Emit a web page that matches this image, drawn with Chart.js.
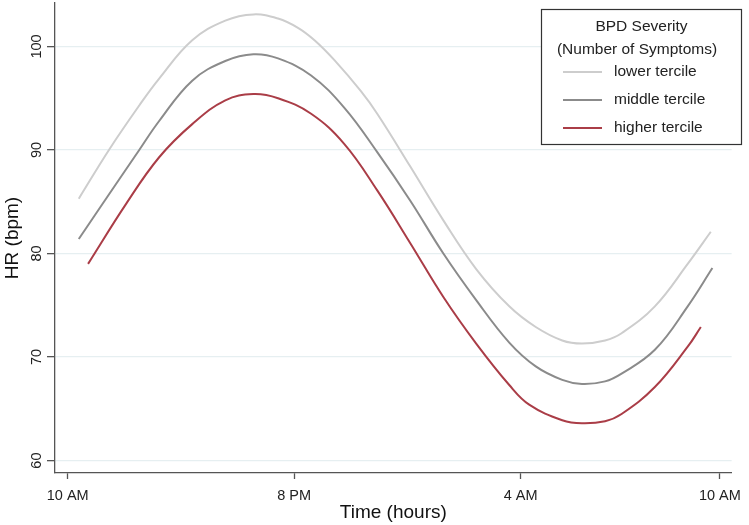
<!DOCTYPE html>
<html>
<head>
<meta charset="utf-8">
<script src="https://cdn.jsdelivr.net/npm/chart.js@4.4.1/dist/chart.umd.min.js"></script>
<style>
  body { margin: 0; background: #ffffff; }
  #chart-container { position: relative; width: 749px; height: 525px; }
</style>
</head>
<body>
<div id="chart-container"><canvas id="myChart"></canvas></div>
<script>
//--------------------- Data

//Series names, shown in the legend
var seriesNames = ["lower tercile", "middle tercile", "higher tercile"]

//Horizontal position of each point, measured in the axis units (10 AM = 0, 8 PM = 10, 4 AM = 20)
var lowerX = [0.49, 1.85, 3.16, 4.04, 5.50, 6.96, 8.20, 9.29, 10.17, 10.90, 11.77, 12.94, 13.67, 15.13, 16.59, 18.04, 19.50, 20.67, 21.84, 22.71, 23.73, 24.46, 25.93, 27.38, 28.40]
var lowerY = [85.3, 90.1, 94.3, 96.9, 100.6, 102.5, 103.1, 102.7, 101.8, 100.6, 98.7, 95.7, 93.5, 88.4, 83.2, 78.5, 74.9, 72.9, 71.6, 71.3, 71.6, 72.3, 74.9, 79.0, 82.1]

var middleX = [0.49, 1.85, 3.16, 4.04, 5.50, 6.96, 8.20, 9.29, 10.75, 12.21, 13.67, 15.13, 16.59, 18.04, 19.50, 20.67, 21.84, 22.71, 23.73, 24.46, 25.93, 27.38, 28.47]
var middleY = [81.4, 85.8, 90.0, 92.8, 96.7, 98.6, 99.25, 98.85, 97.2, 94.1, 89.8, 85.1, 80.0, 75.5, 71.4, 69.1, 67.8, 67.4, 67.65, 68.4, 70.7, 74.9, 78.6]

var higherX = [0.90, 2.58, 4.04, 5.50, 6.96, 8.20, 9.29, 10.75, 12.21, 13.67, 15.13, 16.59, 18.04, 19.50, 20.38, 21.84, 22.71, 23.73, 24.46, 25.93, 27.38, 27.96]
var higherY = [79.0, 84.8, 89.3, 92.5, 94.8, 95.4, 95.0, 93.5, 90.6, 86.1, 81.0, 75.8, 71.3, 67.3, 65.4, 63.9, 63.6, 63.8, 64.5, 67.1, 71.0, 72.9]

//Tick positions and labels
var xTickValues = [0, 10, 20, 28.8]
var xTickLabels = ["10 AM", "8 PM", "4 AM", "10 AM"]
var yTickValues = [60, 70, 80, 90, 100]

//Line colours for the three series
var seriesColors = ["#cdcdcd", "#8b8b8b", "#aa3d47"]

// ------------------- Functions

//Turns two arrays into the {x, y} points Chart.js wants
function makePoints(xs, ys) {
    var points = []
    for (var i = 0; i < xs.length; i++)
    {
        points.push({x: xs[i], y: ys[i]})
    }
    return points
}

//Draws the y tick labels turned on their side, like the original
var sideways = {
    id: "sidewaysTicks",
    afterDraw: function (chart) {
        var ctx = chart.ctx
        var yScale = chart.scales.y
        ctx.save()
        ctx.fillStyle = "#222"
        ctx.font = "14.5px 'Liberation Sans', Arial, sans-serif"
        ctx.textAlign = "center"
        ctx.textBaseline = "middle"
        for (var i = 0; i < yTickValues.length; i++)
        {
            ctx.save()
            ctx.translate(36.5, yScale.getPixelForValue(yTickValues[i]))
            ctx.rotate(-Math.PI / 2)
            ctx.fillText(String(yTickValues[i]), 0, 0)
            ctx.restore()
        }
        ctx.restore()
    }
}

//Draws the boxed legend in the top right corner
var boxLegend = {
    id: "boxLegend",
    afterDraw: function (chart) {
        var ctx = chart.ctx
        ctx.save()
        ctx.fillStyle = "#ffffff"
        ctx.fillRect(541.5, 9.5, 200, 135)
        ctx.strokeStyle = "#333"
        ctx.lineWidth = 1.2
        ctx.strokeRect(541.5, 9.5, 200, 135)

        ctx.fillStyle = "#222"
        ctx.font = "15.5px 'Liberation Sans', Arial, sans-serif"
        ctx.textBaseline = "middle"
        ctx.textAlign = "center"
        ctx.fillText("BPD Severity", 641.5, 27)
        ctx.fillText("(Number of Symptoms)", 637, 50)

        ctx.textAlign = "left"
        for (var i = 0; i < seriesNames.length; i++)
        {
            var rowY = 72 + i * 28
            ctx.strokeStyle = seriesColors[i]
            ctx.lineWidth = 2
            ctx.beginPath()
            ctx.moveTo(563, rowY)
            ctx.lineTo(602, rowY)
            ctx.stroke()
            ctx.fillText(seriesNames[i], 614, rowY)
        }
        ctx.restore()
    }
}

//Builds the chart
function createGraph() {
    var allX = [lowerX, middleX, higherX]
    var allY = [lowerY, middleY, higherY]
    var datasets = []
    for (var i = 0; i < seriesNames.length; i++)
    {
        datasets.push({
            label: seriesNames[i],
            data: makePoints(allX[i], allY[i]),
            borderColor: seriesColors[i],
            borderWidth: 2,
            pointRadius: 0,
            fill: false,
            tension: 0.4
        })
    }

    var ctx = document.getElementById("myChart")
    var myChart = new Chart(ctx, {
        type: "line",
        data: { datasets: datasets },
        options: {
            animation: false,
            responsive: true,
            maintainAspectRatio: false,
            layout: { padding: { top: 3, right: 11, left: 0, bottom: 0 } },
            plugins: {
                legend: { display: false },
                tooltip: { enabled: false }
            },
            scales: {
                x: {
                    type: "linear",
                    min: -0.56,
                    max: 29.32,
                    afterBuildTicks: function (scale) {
                        scale.ticks = xTickValues.map(function (v) { return {value: v} })
                    },
                    afterFit: function (scale) { scale.height = 52 },
                    border: { color: "#555", width: 1.3 },
                    grid: { drawOnChartArea: false, drawTicks: true, tickLength: 6, tickColor: "#555", tickWidth: 1.3 },
                    ticks: {
                        padding: 8,
                        color: "#222",
                        maxRotation: 0,
                        font: { family: "'Liberation Sans', Arial, sans-serif", size: 14.5 },
                        callback: function (value) {
                            var index = xTickValues.indexOf(value)
                            return index >= 0 ? xTickLabels[index] : ""
                        }
                    },
                    title: {
                        display: true,
                        text: "Time (hours)",
                        color: "#111",
                        padding: { top: 0, bottom: 1 },
                        font: { family: "'Liberation Sans', Arial, sans-serif", size: 19 }
                    }
                },
                y: {
                    min: 58.8,
                    max: 104.2,
                    afterBuildTicks: function (scale) {
                        scale.ticks = yTickValues.map(function (v) { return {value: v} })
                    },
                    afterFit: function (scale) { scale.width = 55 },
                    border: { color: "#555", width: 1.3 },
                    grid: { color: "#e6eff1", lineWidth: 1.3, tickLength: 8, tickColor: "#555", tickWidth: 1.3 },
                    ticks: { display: false },
                    title: {
                        display: true,
                        text: "HR (bpm)",
                        color: "#111",
                        padding: { top: 1, bottom: 0 },
                        font: { family: "'Liberation Sans', Arial, sans-serif", size: 19 }
                    }
                }
            }
        },
        plugins: [sideways, boxLegend]
    })
    return myChart
}

createGraph()
</script>
</body>
</html>
